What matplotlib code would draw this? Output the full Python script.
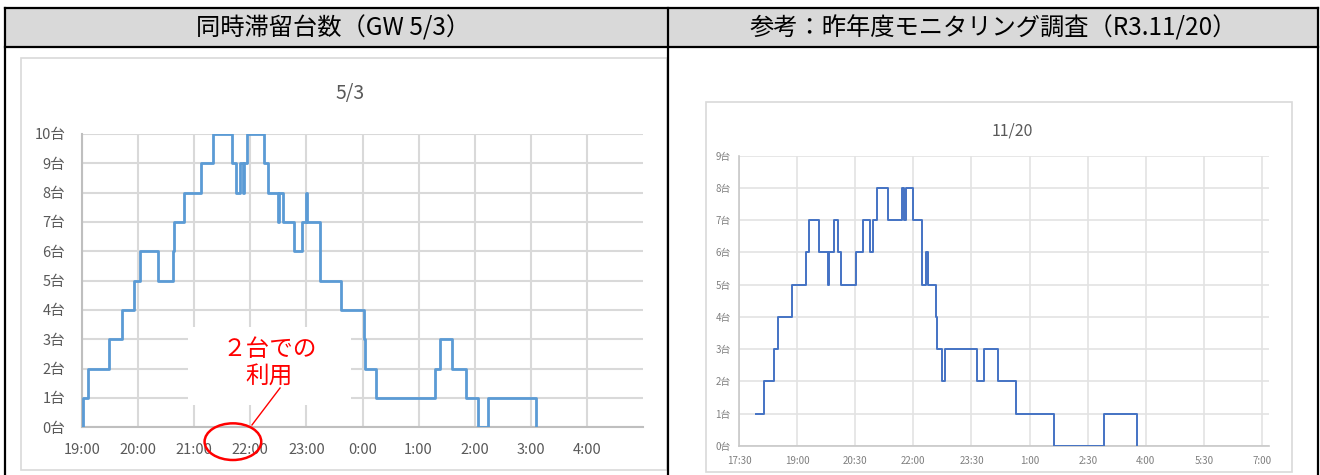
import matplotlib
matplotlib.use("Agg")
import matplotlib.pyplot as plt
from matplotlib.patches import Rectangle, Ellipse
from matplotlib.lines import Line2D

plt.rcParams['font.family'] = ['Noto Sans CJK JP', 'DejaVu Sans']

# --- data: 同時滞留台数 GW 5/3 (step changes) ---
gw_times = ["19:00", "19:01", "19:06", "19:29", "19:43", "19:56", "20:02", "20:21",
            "20:37", "20:38", "20:49", "21:07", "21:20", "21:40", "21:45", "21:49",
            "21:52", "21:53", "21:56", "22:15", "22:19", "22:30", "22:31", "22:35",
            "22:47", "22:55", "23:00", "23:01", "23:15", "23:37", "0:02", "0:03",
            "0:14", "1:18", "1:23", "1:36", "1:51", "2:04", "2:14", "3:06"]
gw_counts = [0, 1, 2, 3, 4, 5, 6, 5,
             6, 7, 8, 9, 10, 9, 8, 9,
             8, 9, 10, 9, 8, 7, 8, 7,
             6, 7, 8, 7, 5, 4, 3, 2,
             1, 2, 3, 2, 1, 0, 1, 0]

# --- data: 昨年度モニタリング調査 R3.11/20 ---
r3_times = ["17:56", "18:09", "18:24", "18:31", "18:52", "19:13", "19:18", "19:34",
            "19:48", "19:50", "19:57", "20:03", "20:08", "20:31", "20:42", "20:53",
            "20:58", "21:03", "21:21", "21:43", "21:45", "21:49", "21:59", "22:13",
            "22:19", "22:23", "22:35", "22:36", "22:44", "22:49", "23:39", "23:49",
            "0:11", "0:39", "1:37", "2:55", "3:47"]
r3_counts = [1, 2, 3, 4, 5, 6, 7, 6,
             5, 6, 7, 6, 5, 6, 7, 6,
             7, 8, 7, 8, 7, 8, 7, 5,
             6, 5, 4, 3, 2, 3, 2, 3,
             2, 1, 0, 1, 0]

headers = ["同時滞留台数（GW 5/3）", "参考：昨年度モニタリング調査（R3.11/20）"]
titles = ["5/3", "11/20"]


def to_hours(t):
    h, m = t.split(":")
    h = int(h)
    if h < 12:
        h += 24
    return h + int(m) / 60


def hm_label(v):
    h = int(round(v * 60)) // 60
    m = int(round(v * 60)) % 60
    return f"{h % 24}:{m:02d}"


W, H = 1320, 475
fig = plt.figure(figsize=(W / 100, H / 100), dpi=100)


def px_rect(x0, y0, x1, y1):
    return [x0 / W, 1 - y1 / H, (x1 - x0) / W, (y1 - y0) / H]


# table header and borders
bg = fig.add_axes([0, 0, 1, 1])
bg.set_xlim(0, W)
bg.set_ylim(H, 0)
bg.axis("off")
bg.add_patch(Rectangle((5, 8), 1313, 39, facecolor="#d9d9d9", edgecolor="none"))
for (xa, ya, xb, yb) in [(5, 8, 1318, 8), (5, 47, 1318, 47), (5, 8, 5, 475),
                         (668, 8, 668, 475), (1318, 8, 1318, 475)]:
    bg.add_line(Line2D([xa, xb], [ya, yb], color="black", lw=1.6))
bg.text(333, 28, headers[0], ha="center", va="center", fontsize=17.5)
bg.text(993, 28, headers[1], ha="center", va="center", fontsize=17.5)

# chart panels
bg.add_patch(Rectangle((21, 58), 646, 412, facecolor="white", edgecolor="#d9d9d9", lw=1.2))
bg.add_patch(Rectangle((706, 102), 586, 370, facecolor="white", edgecolor="#d9d9d9", lw=1.2))
bg.text(350, 94, titles[0], ha="center", va="center", fontsize=14, color="#595959")
bg.text(1012, 131, titles[1], ha="center", va="center", fontsize=11.5, color="#595959")

# ---- left chart ----
ax1 = fig.add_axes(px_rect(82, 134, 643, 427.3))
x1 = [to_hours(t) for t in gw_times]
ax1.step(x1, gw_counts, where="post", color="#5b9bd5", lw=2.0, zorder=3)
ax1.set_xlim(19, 29)
ax1.set_ylim(0, 10)
ax1.set_xticks(range(19, 29))
ax1.set_xticklabels([hm_label(v) for v in range(19, 29)])
ax1.set_yticks(range(0, 11))
ax1.set_yticklabels([f"{v}台" for v in range(0, 11)])
ax1.grid(True, color="#d9d9d9", lw=1.5)
ax1.set_axisbelow(True)
for s in ["top", "right"]:
    ax1.spines[s].set_visible(False)
for s in ["left", "bottom"]:
    ax1.spines[s].set_color("#bfbfbf")
    ax1.spines[s].set_linewidth(1.5)
ax1.tick_params(axis="both", length=0, labelsize=10.5, labelcolor="#595959")
ax1.tick_params(axis="y", pad=12)
ax1.tick_params(axis="x", pad=11)

# annotation: 2台での利用
ax1.add_patch(Rectangle((20.89, 0.76), 2.9, 2.66, facecolor="white", edgecolor="none", zorder=2))
ax1.text(22.35, 2.64, "２台での", ha="center", va="center", fontsize=17, color="red", zorder=4)
ax1.text(22.33, 1.72, "利用", ha="center", va="center", fontsize=17, color="red", zorder=4)
ax1.add_patch(Ellipse((21.69, -0.49), 1.01, 1.25, facecolor="none", edgecolor="red",
                      lw=1.8, clip_on=False, zorder=5))
ax1.add_line(Line2D([22.03, 22.53], [0.08, 1.34], color="red", lw=1, clip_on=False, zorder=5))

# ---- right chart ----
ax2 = fig.add_axes(px_rect(739, 155.7, 1268.7, 446))
x2 = [to_hours(t) for t in r3_times]
ax2.step(x2, r3_counts, where="post", color="#4472c4", lw=1.4, zorder=3)
ax2.set_xlim(17.5, 31.17)
ax2.set_ylim(0, 9)
xt = [17.5 + 1.5 * i for i in range(10)]
ax2.set_xticks(xt)
ax2.set_xticklabels([hm_label(v) for v in xt])
ax2.set_yticks(range(0, 10))
ax2.set_yticklabels([f"{v}台" for v in range(0, 10)])
ax2.grid(True, color="#e3e3e3", lw=1.2)
ax2.set_axisbelow(True)
for s in ["top", "right"]:
    ax2.spines[s].set_visible(False)
for s in ["left", "bottom"]:
    ax2.spines[s].set_color("#c8c8c8")
    ax2.spines[s].set_linewidth(1.2)
ax2.tick_params(axis="both", length=0, labelsize=7, labelcolor="#7f7f7f")
ax2.tick_params(axis="y", pad=6)
ax2.tick_params(axis="x", pad=7)

fig.savefig("out.png", dpi=100)
